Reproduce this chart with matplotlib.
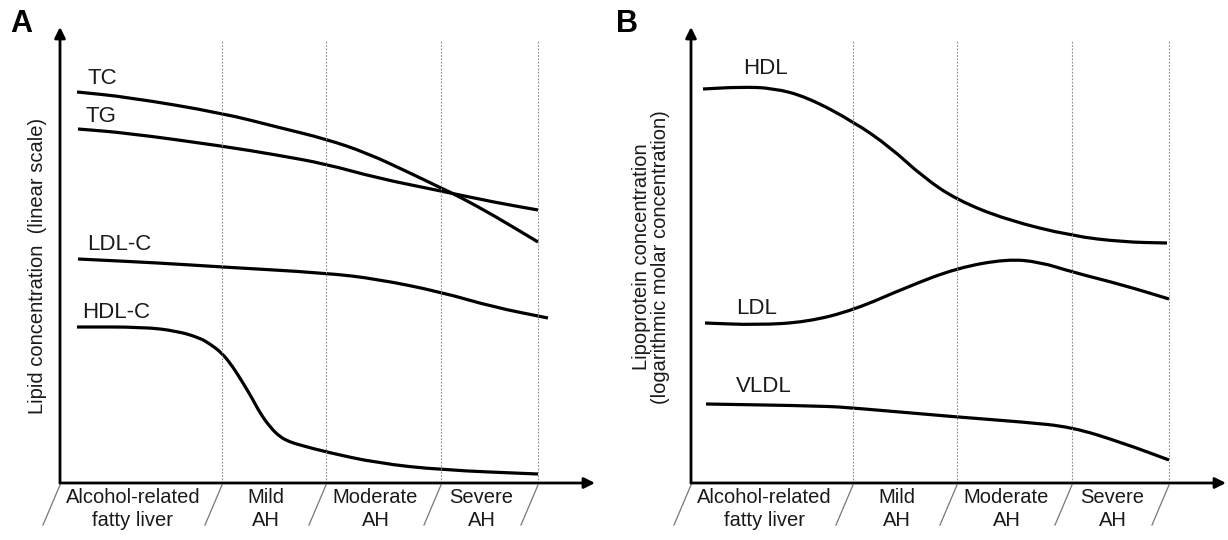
import matplotlib
matplotlib.use("Agg")
import matplotlib.pyplot as plt
from matplotlib.path import Path
from matplotlib.patches import PathPatch

plt.rcParams["font.family"] = ["Liberation Sans", "DejaVu Sans"]

# stage labels and the stage boundaries along the x axis (arbitrary progression units)
stages = ["Alcohol-related\nfatty liver", "Mild\nAH", "Moderate\nAH", "Severe\nAH"]
bounds = [0, 162, 266, 381, 478]

# panel A: lipid concentration (linear scale, arbitrary units)
tc_x = [17, 67, 162, 217, 266, 307, 350, 381, 400, 433, 478]
tc_y = [391, 386, 370, 356, 344, 330, 310, 295, 286, 268, 241]
tg_x = [18, 67, 162, 217, 266, 317, 381, 433, 478]
tg_y = [354, 350, 337, 328, 319, 305, 292, 281, 273]
ldlc_x = [18, 100, 162, 266, 317, 381, 433, 488]
ldlc_y = [224, 220, 216, 210, 204, 191, 176, 165]
hdlc_x = [17, 83, 117, 140, 150, 162, 173, 183, 192, 200, 210, 220, 230, 240, 266, 317, 381, 478]
hdlc_y = [156, 156, 152, 145, 139, 130, 116, 100, 85, 70, 56, 46, 41, 38, 31, 20, 13, 9]

# panel B: lipoprotein concentration (log molar, arbitrary units)
hdl_x = [12, 49, 82, 116, 163, 199, 232, 266, 316, 381, 432, 476]
hdl_y = [394, 396, 395, 386, 361, 336, 306, 283, 263, 247, 241, 240]
ldl_x = [14, 66, 116, 163, 216, 266, 316, 349, 381, 432, 478]
ldl_y = [160, 158, 161, 173, 196, 215, 224, 221, 211, 198, 184]
vldl_x = [15, 132, 163, 266, 332, 381, 432, 478]
vldl_y = [79, 77, 75, 66, 61, 56, 40, 23]

W, H = 1228, 540
fig = plt.figure(figsize=(W / 100, H / 100), dpi=100)


def make_axes(x0):
    # x0: pixel position of the origin; axes reach 535 px right and 456 px up
    ax = fig.add_axes([x0 / W, (H - 483) / H, 535 / W, 456 / H])
    ax.set_xlim(0, 535)
    ax.set_ylim(0, 456)
    ax.axis("off")
    arrow = dict(arrowstyle="-|>", lw=2, color="black", mutation_scale=16,
                 shrinkA=0, shrinkB=0)
    ax.annotate("", xy=(535, 0), xytext=(0, 0), arrowprops=arrow, annotation_clip=False)
    ax.annotate("", xy=(0, 456), xytext=(0, 0), arrowprops=arrow, annotation_clip=False)
    for b in bounds[1:]:
        ax.plot([b, b], [0, 443], color="#8a8a8a", lw=0.8, ls=(0, (1.5, 1.5)))
    for b in bounds:
        ax.plot([b, b - 17], [-2, -42], color="#777777", lw=0.9, clip_on=False)
    for i, s in enumerate(stages):
        xc = (bounds[i] + bounds[i + 1]) / 2 - 8
        ax.text(xc, -5, s, ha="center", va="top", fontsize=14.5,
                color="#1a1a1a", linespacing=1.25, clip_on=False)
    return ax


def curve(ax, xs, ys):
    # smooth drawing through the read points with quadratic bezier segments
    pts = list(zip(xs, ys))
    verts = [pts[0]]
    codes = [Path.MOVETO]
    for i in range(1, len(pts) - 1):
        mid_prev = ((pts[i - 1][0] + pts[i][0]) / 2, (pts[i - 1][1] + pts[i][1]) / 2)
        mid_next = ((pts[i][0] + pts[i + 1][0]) / 2, (pts[i][1] + pts[i + 1][1]) / 2)
        if i == 1:
            verts.append(mid_prev)
            codes.append(Path.LINETO)
        verts += [pts[i], mid_next]
        codes += [Path.CURVE3, Path.CURVE3]
    verts.append(pts[-1])
    codes.append(Path.LINETO)
    ax.add_patch(PathPatch(Path(verts, codes), fill=False, edgecolor="black",
                           lw=2.3, capstyle="butt"))


lab = dict(fontsize=16, color="#1a1a1a", va="center", ha="left")

axA = make_axes(60)
curve(axA, tc_x, tc_y)
curve(axA, tg_x, tg_y)
curve(axA, ldlc_x, ldlc_y)
curve(axA, hdlc_x, hdlc_y)
axA.text(28, 404, "TC", **lab)
axA.text(25, 366, "TG", **lab)
axA.text(27, 238, "LDL-C", **lab)
axA.text(22, 171, "HDL-C", **lab)

axB = make_axes(691)
curve(axB, hdl_x, hdl_y)
curve(axB, ldl_x, ldl_y)
curve(axB, vldl_x, vldl_y)
axB.text(52, 415, "HDL", **lab)
axB.text(45, 175, "LDL", **lab)
axB.text(45, 97, "VLDL", **lab)

fig.text(38 / W, 1 - 266 / H, "Lipid concentration  (linear scale)", rotation=90,
         ha="center", va="center", fontsize=14.5, color="#1a1a1a")
fig.text(651 / W, 1 - 257 / H, "Lipoprotein concentration\n(logarithmic molar concentration)",
         rotation=90, ha="center", va="center", fontsize=14.5, color="#1a1a1a",
         linespacing=1.05, multialignment="center")

fig.text(21 / W, 1 - 24 / H, "A", fontsize=22, fontweight="bold", ha="center", va="center")
fig.text(627 / W, 1 - 24 / H, "B", fontsize=22, fontweight="bold", ha="center", va="center")

fig.savefig("out.png", dpi=100, facecolor="white")
